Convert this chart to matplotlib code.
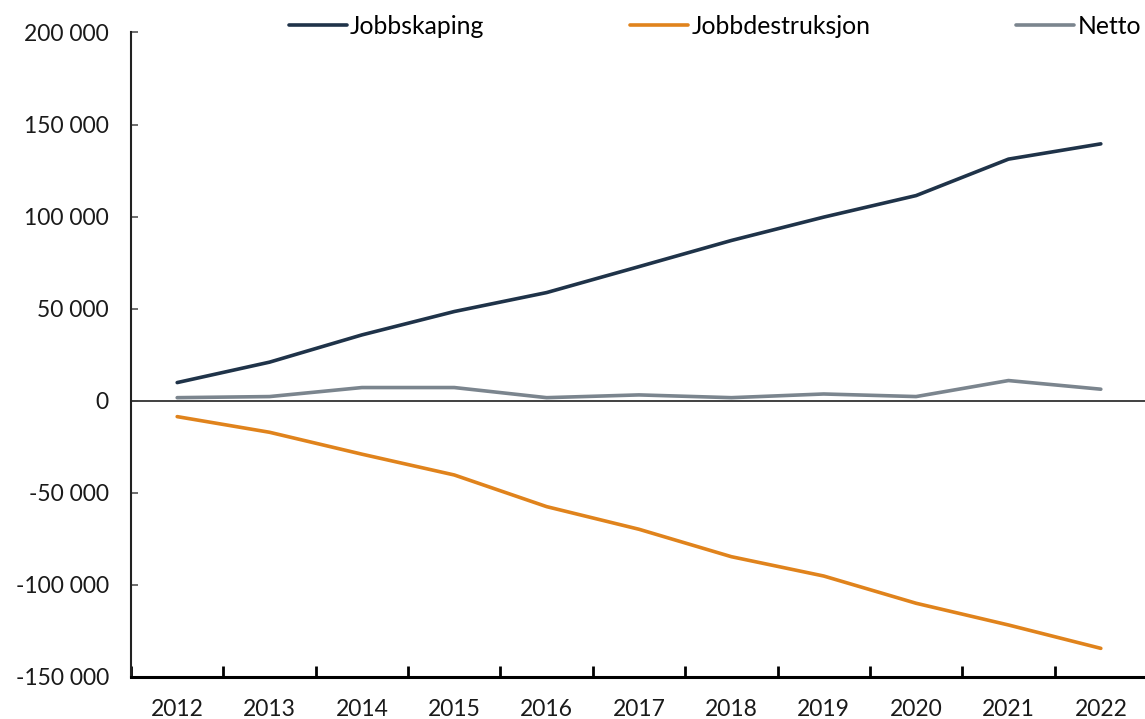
import matplotlib
matplotlib.use("Agg")
import matplotlib.pyplot as plt
import numpy as np

plt.rcParams['font.family'] = ['Lato', 'DejaVu Sans']

years = ['2012', '2013', '2014', '2015', '2016', '2017', '2018', '2019', '2020', '2021', '2022']
jobbskaping = [9800, 20900, 35700, 48400, 58700, 72800, 87000, 99700, 111400, 131200, 139500]
jobbdestruksjon = [-8700, -17200, -29100, -40400, -57600, -69900, -84800, -95300, -110100, -121900, -134600]
netto = [1600, 2200, 7100, 7100, 1600, 3100, 1600, 3600, 2200, 10900, 6200]

series_names = ['Jobbskaping', 'Jobbdestruksjon', 'Netto']
series_colors = ['#1f3349', '#e0831c', '#7b858e']

y_ticks = [-150000, -100000, -50000, 0, 50000, 100000, 150000, 200000]

fs = 16.5
legend_fs = 17.8

fig = plt.figure(figsize=(11.45, 7.19), dpi=100)
ax = fig.add_axes([131 / 1145, (719 - 676.7) / 719, (1147 - 131) / 1145, (676.7 - 32.5) / 719])

x = np.arange(len(years))
handles = []
for vals, name, col in zip([jobbskaping, jobbdestruksjon, netto], series_names, series_colors):
    h, = ax.plot(x, vals, color=col, lw=2.6, label=name, solid_capstyle='round', zorder=3)
    handles.append(h)

ax.axhline(0, color='#404040', lw=1.4, zorder=2)

ax.set_xlim(-0.5, len(years) - 0.5)
ax.set_ylim(-150000, 200000)

# y axis
ax.set_yticks(y_ticks)
ax.set_yticklabels([f"{v:,}".replace(',', ' ') for v in y_ticks], fontsize=fs, color='#1a1a1a')
ax.tick_params(axis='y', direction='in', length=5, width=1.2, color='#555555', pad=16)

# x axis: labels centred on categories, ticks on category boundaries
ax.set_xticks(x)
ax.set_xticklabels(years, fontsize=fs, color='#1a1a1a')
ax.tick_params(axis='x', which='major', length=0, pad=16)
ax.set_xticks(np.arange(len(years) + 1) - 0.5, minor=True)
ax.tick_params(axis='x', which='minor', direction='in', length=8, width=2, color='black')

for s in ['top', 'right']:
    ax.spines[s].set_visible(False)
ax.spines['left'].set_linewidth(1.5)
ax.spines['left'].set_color('#222222')
ax.spines['bottom'].set_linewidth(2.2)
ax.spines['bottom'].set_color('black')

fig.legend(handles=handles, labels=series_names, loc='center left',
           bbox_to_anchor=(289 / 1145, 1 - 26 / 719), ncol=3, frameon=False,
           fontsize=legend_fs, handlelength=2.35, handletextpad=0.12, columnspacing=5.9,
           borderaxespad=0, borderpad=0)

fig.savefig('out.png', dpi=100, facecolor='white')
